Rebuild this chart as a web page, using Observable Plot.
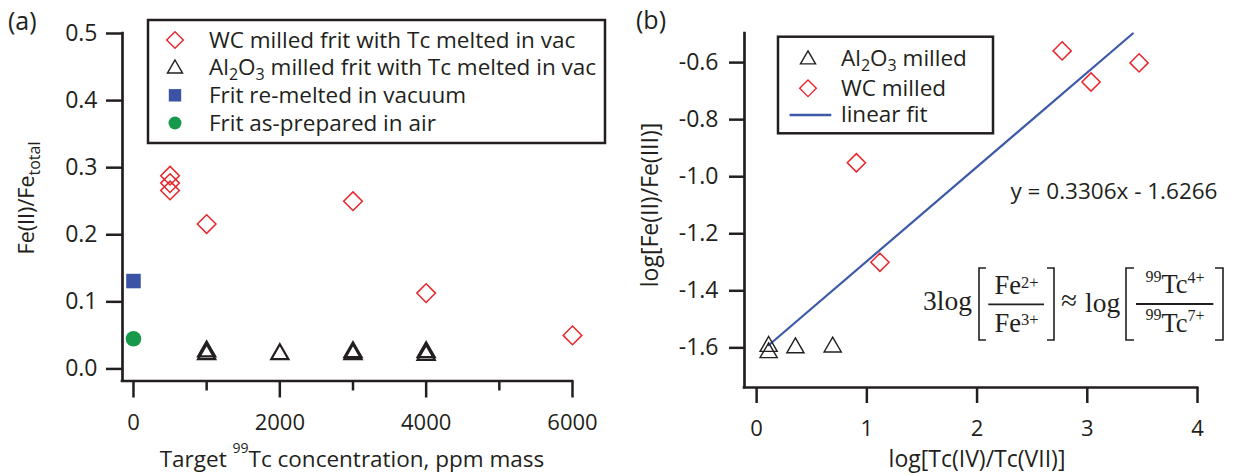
<!DOCTYPE html>
<html><head><meta charset="utf-8">
<script src="https://cdn.jsdelivr.net/npm/d3@7"></script>
<script src="https://cdn.jsdelivr.net/npm/@observablehq/plot@0.6"></script>
<style>
html,body{margin:0;padding:0;background:#fff;}
#wrap{position:relative;width:1233px;height:475px;overflow:hidden;font-family:"Open Sans",sans-serif;}
.panel{position:absolute;top:0;}
</style></head>
<body><div id="wrap"><div id="pa" class="panel" style="left:0"></div><div id="pb" class="panel" style="left:620px"></div></div>
<script>
// ---------- Panel (a) data ----------
const aWcX = [500, 500, 500, 1000, 3000, 4000, 6000];
const aWcY = [0.288, 0.277, 0.266, 0.216, 0.250, 0.113, 0.050];
const aAlX = [1000, 1000, 2000, 3000, 3000, 4000, 4000];
const aAlY = [0.026, 0.022, 0.022, 0.025, 0.022, 0.025, 0.021];
const aRemeltX = [0];
const aRemeltY = [0.131];
const aAirX = [0];
const aAirY = [0.045];
const aYTicks = [0, 0.1, 0.2, 0.3, 0.4, 0.5];
const aXMajor = [0, 2000, 4000, 6000];
const aXMinor = [1000, 3000, 5000];
// ---------- Panel (b) data ----------
const bAlX = [0.109, 0.109, 0.352, 0.690];
const bAlY = [-1.595, -1.617, -1.600, -1.597];
const bWcX = [0.905, 1.119, 2.772, 3.034, 3.470];
const bWcY = [-0.951, -1.300, -0.559, -0.668, -0.601];
const bFitX = [0.109, 3.413];
const bFitY = [-1.591, -0.498];
const bXTicks = [0, 1, 2, 3, 4];
const bYTicks = [-1.6, -1.4, -1.2, -1.0, -0.8, -0.6];

const RED = "#e8262c", BLUE = "#3a53a4", GREEN = "#17994b", INK = "#231f20", FIT = "#3d5aa8";
const SANS = '"Open Sans", sans-serif';
const SERIF = '"Liberation Serif", "Times New Roman", serif';

function rich(parent, x, y, parts, size, opts = {}) {
  const t = parent.append("text").attr("x", x).attr("y", y)
    .attr("font-size", size).attr("font-family", opts.family || SANS)
    .attr("fill", INK).attr("text-anchor", opts.anchor || "start");
  if (opts.transform) t.attr("transform", opts.transform);
  let shift = 0;
  for (const p of parts) {
    const target = p.sub ? (p.shift ?? size * 0.3) : p.sup ? -(p.shift ?? size * 0.4) : 0;
    const ts = t.append("tspan").text(p.t);
    if (target - shift !== 0) ts.attr("dy", target - shift);
    if (p.sub || p.sup) ts.attr("font-size", p.size || size * 0.7);
    shift = target;
  }
  return t;
}
function sym(g, type, x, y, r, o) {
  g.append("path").attr("transform", `translate(${x},${y})`)
    .attr("d", d3.symbol().type(type).size(Math.PI * r * r)())
    .attr("fill", o.fill || "none").attr("stroke", o.stroke || "none")
    .attr("stroke-width", o.sw || 0);
}

// ---------- Panel (a) ----------
const pa = Plot.plot({
  width: 620, height: 475,
  marginLeft: 122, marginRight: 48, marginTop: 33, marginBottom: 94.5,
  style: {fontFamily: SANS, color: INK, background: "transparent", overflow: "visible"},
  x: {domain: [-150, 6000]},
  y: {domain: [-0.018, 0.5]},
  marks: [
    Plot.axisY({ticks: aYTicks, tickSize: 16, tickPadding: 9, fontSize: 23, strokeWidth: 2.5, tickFormat: d => d.toFixed(1), label: null}),
    Plot.axisX({ticks: aXMajor, tickSize: 17, tickPadding: 16, fontSize: 22, strokeWidth: 2.5, tickFormat: d => String(d), label: null}),
    Plot.axisX({ticks: aXMinor, tickSize: 10, strokeWidth: 2.5, tickFormat: () => "", label: null}),
    Plot.ruleX([-150], {stroke: INK, strokeWidth: 2.7, strokeLinecap: "square"}),
    Plot.ruleY([-0.018], {stroke: INK, strokeWidth: 2.7, strokeLinecap: "square"}),
    Plot.dot(aWcX, {x: aWcX, y: aWcY, symbol: "diamond2", r: 8.4, stroke: RED, strokeWidth: 1.5, fill: "none"}),
    Plot.dot(aAlX, {x: aAlX, y: aAlY, symbol: "triangle2", r: 8.2, stroke: INK, strokeWidth: 2.2, fill: "none"}),
    Plot.dot(aRemeltX, {x: aRemeltX, y: aRemeltY, symbol: "square", r: 8.2, fill: BLUE}),
    Plot.dot(aAirX, {x: aAirX, y: aAirY, symbol: "circle", r: 7.8, fill: GREEN})
  ]
});
document.getElementById("pa").appendChild(pa);
{
  const g = d3.select(pa).append("g");
  rich(g, 8, 30, [{t: "(a)"}], 25);
  rich(g, 34, 198, [{t: "Fe(II)/Fe"}, {t: "total", sub: true, size: 16, shift: 6}], 21.5,
       {anchor: "middle", transform: "rotate(-90,34,198)"});
  rich(g, 352, 467, [{t: "Target "}, {t: "99", sup: true, size: 14, shift: 14.5}, {t: "Tc concentration, ppm mass"}], 22.5,
       {anchor: "middle"});
  // legend
  g.append("rect").attr("x", 148).attr("y", 20).attr("width", 457).attr("height", 123)
    .attr("fill", "white").attr("stroke", INK).attr("stroke-width", 2.5);
  const rows = [40, 67.7, 95.3, 123];
  sym(g, d3.symbolDiamond2, 175, rows[0], 7.5, {stroke: RED, sw: 1.4});
  sym(g, d3.symbolTriangle2, 175, rows[1] + 1, 7.2, {stroke: INK, sw: 1.4});
  sym(g, d3.symbolSquare, 175, rows[2], 7, {fill: BLUE});
  sym(g, d3.symbolCircle, 175, rows[3], 6.5, {fill: GREEN});
  rich(g, 209, rows[0] + 7.5, [{t: "WC milled frit with Tc melted in vac"}], 22.5);
  rich(g, 209, rows[1] + 7.5, [{t: "Al"}, {t: "2", sub: true, size: 16, shift: 5}, {t: "O"}, {t: "3", sub: true, size: 16, shift: 5}, {t: " milled frit with Tc melted in vac"}], 22.5);
  rich(g, 209, rows[2] + 7.5, [{t: "Frit re-melted in vacuum"}], 22.5);
  rich(g, 209, rows[3] + 7.5, [{t: "Frit as-prepared in air"}], 22.5);
}

// ---------- Panel (b) ----------
const pb = Plot.plot({
  width: 613, height: 475,
  marginLeft: 124, marginRight: 36, marginTop: 33, marginBottom: 88,
  style: {fontFamily: SANS, color: INK, background: "transparent", overflow: "visible"},
  x: {domain: [-0.11, 4.0]},
  y: {domain: [-1.739, -0.498]},
  marks: [
    Plot.axisY({ticks: bYTicks, tickSize: 15, tickPadding: 11, fontSize: 23, strokeWidth: 2.5, tickFormat: d => d.toFixed(1), label: null}),
    Plot.axisX({ticks: bXTicks, tickSize: 16, tickPadding: 17, fontSize: 22, strokeWidth: 2.5, tickFormat: d => String(d), label: null}),
    Plot.ruleX([-0.11], {stroke: INK, strokeWidth: 2.7, strokeLinecap: "square"}),
    Plot.ruleY([-1.739], {stroke: INK, strokeWidth: 2.7, strokeLinecap: "square"}),
    Plot.line(bFitX, {x: bFitX, y: bFitY, stroke: FIT, strokeWidth: 2.2}),
    Plot.dot(bAlX, {x: bAlX, y: bAlY, symbol: "triangle2", r: 8.2, stroke: INK, strokeWidth: 1.4, fill: "none"}),
    Plot.dot(bWcX, {x: bWcX, y: bWcY, symbol: "diamond2", r: 8.2, stroke: RED, strokeWidth: 1.5, fill: "none"})
  ]
});
document.getElementById("pb").appendChild(pb);
{
  const g = d3.select(pb).append("g");
  rich(g, 16, 29, [{t: "(b)"}], 25);
  rich(g, 38, 205, [{t: "log[Fe(II)/Fe(III)]"}], 23, {anchor: "middle", transform: "rotate(-90,38,205)"});
  rich(g, 357, 466.5, [{t: "log[Tc(IV)/Tc(VII)]"}], 23, {anchor: "middle"});
  rich(g, 494, 199.3, [{t: "y = 0.3306x - 1.6266"}], 22.5, {anchor: "middle"});
  // legend
  g.append("rect").attr("x", 158).attr("y", 36.7).attr("width", 215).attr("height", 96.6)
    .attr("fill", "white").attr("stroke", INK).attr("stroke-width", 2.5);
  sym(g, d3.symbolTriangle2, 188, 59.5, 7.2, {stroke: INK, sw: 1.4});
  sym(g, d3.symbolDiamond2, 188, 88.3, 7.5, {stroke: RED, sw: 1.4});
  g.append("line").attr("x1", 169.6).attr("x2", 211.3).attr("y1", 115).attr("y2", 115)
    .attr("stroke", FIT).attr("stroke-width", 2.5);
  rich(g, 221, 65.5, [{t: "Al"}, {t: "2", sub: true, size: 16, shift: 5}, {t: "O"}, {t: "3", sub: true, size: 16, shift: 5}, {t: " milled"}], 22.5);
  rich(g, 221, 95.5, [{t: "WC milled"}], 22.5);
  rich(g, 221, 122, [{t: "linear fit"}], 22.5);
  // formula
  const f = g.append("g");
  const br = (d) => f.append("path").attr("d", d).attr("fill", "none").attr("stroke", INK).attr("stroke-width", 1.6);
  const bar = (x1, x2, y) => f.append("line").attr("x1", x1).attr("x2", x2).attr("y1", y).attr("y2", y).attr("stroke", INK).attr("stroke-width", 1.8);
  rich(f, 303, 310, [{t: "3log"}], 27.5, {family: SERIF});
  br("M366,268 H359 V340 H366");
  bar(368.3, 424, 304.3);
  rich(f, 396.5, 294.3, [{t: "Fe"}, {t: "2+", sup: true, size: 16.5, shift: 6.5}], 26.5, {family: SERIF, anchor: "middle"});
  rich(f, 396.5, 331.7, [{t: "Fe"}, {t: "3+", sup: true, size: 16.5, shift: 6.5}], 26.5, {family: SERIF, anchor: "middle"});
  br("M427,268 H434 V340 H427");
  rich(f, 441, 310, [{t: "\u2248"}], 29, {family: SERIF});
  rich(f, 465, 311.7, [{t: "log"}], 27.5, {family: SERIF});
  br("M514,268 H506 V340 H514");
  bar(516, 593.3, 304);
  rich(f, 555, 293.3, [{t: "99", sup: true, size: 16, shift: 11.6}, {t: "Tc"}, {t: "4+", sup: true, size: 16, shift: 10.3}], 26.5, {family: SERIF, anchor: "middle"});
  rich(f, 555, 331.7, [{t: "99", sup: true, size: 16, shift: 11.6}, {t: "Tc"}, {t: "7+", sup: true, size: 16, shift: 10.3}], 26.5, {family: SERIF, anchor: "middle"});
  br("M595,268 H603 V340 H595");
}
</script>
</body></html>
